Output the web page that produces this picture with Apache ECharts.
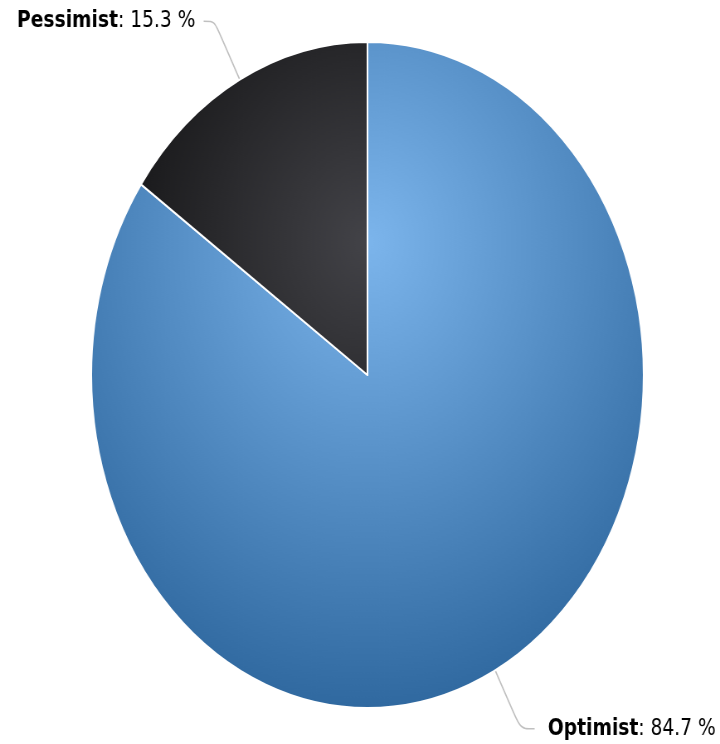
<!DOCTYPE html>
<html>
<head>
<meta charset="utf-8">
<script src="https://cdn.jsdelivr.net/npm/echarts@6/dist/echarts.min.js"></script>
<style>
  html, body { margin: 0; padding: 0; background: #fff; overflow: hidden; width: 720px; height: 744px; }
  #chart { width: 868px; height: 744px; transform: scaleX(0.8295); transform-origin: 0 0; }
</style>
</head>
<body>
<div id="chart"></div>
<script>
// Survey split between optimists and pessimists (percent)
const categories = ['Optimist', 'Pessimist'];
const shares = [84.7, 15.3];
const baseColors = ['#7cb5ec', '#434348'];
const edgeColors = ['rgb(48,105,160)', 'rgb(0,0,0)'];

const cx = 443, cy = 375, R = 333;

// per-slice connector tail and gap before the label text
const tailLength = [17, 13];
const labelGap = [16, 10];

// radial shading shared by both slices: centred on the pie, lifted to 30% of its height
function shade(i) {
  return {
    type: 'radial', x: cx, y: cy - 0.2 * 2 * R, r: 0.7 * 2 * R, global: true,
    colorStops: [
      { offset: 0, color: baseColors[i] },
      { offset: 1, color: edgeColors[i] }
    ]
  };
}

const chart = echarts.init(document.getElementById('chart'));
chart.setOption({
  animation: false,
  backgroundColor: '#ffffff',
  series: [{
    type: 'pie',
    center: [cx, cy],
    radius: R,
    startAngle: 90,
    clockwise: true,
    avoidLabelOverlap: false,
    itemStyle: { borderColor: '#ffffff', borderWidth: 2 },
    label: {
      show: true,
      position: 'outside',
      color: '#000',
      fontFamily: 'DejaVu Sans',
      fontSize: 22.5,
      formatter: p => '{n|' + p.name + '}: ' + p.value.toFixed(1) + ' %',
      rich: {
        n: { fontFamily: 'DejaVu Sans', fontSize: 22.5, fontWeight: 'bold', color: '#000' }
      }
    },
    labelLine: {
      show: true,
      length: 66,
      smooth: 0.3,
      lineStyle: { color: '#c0c0c0', width: 1.6 }
    },
    emphasis: { disabled: true },
    data: categories.map((name, i) => ({
      name: name,
      value: shares[i],
      itemStyle: { color: shade(i) },
      label: { distanceToLabelLine: labelGap[i] },
      labelLine: { length2: tailLength[i] }
    }))
  }]
});
</script>
</body>
</html>
